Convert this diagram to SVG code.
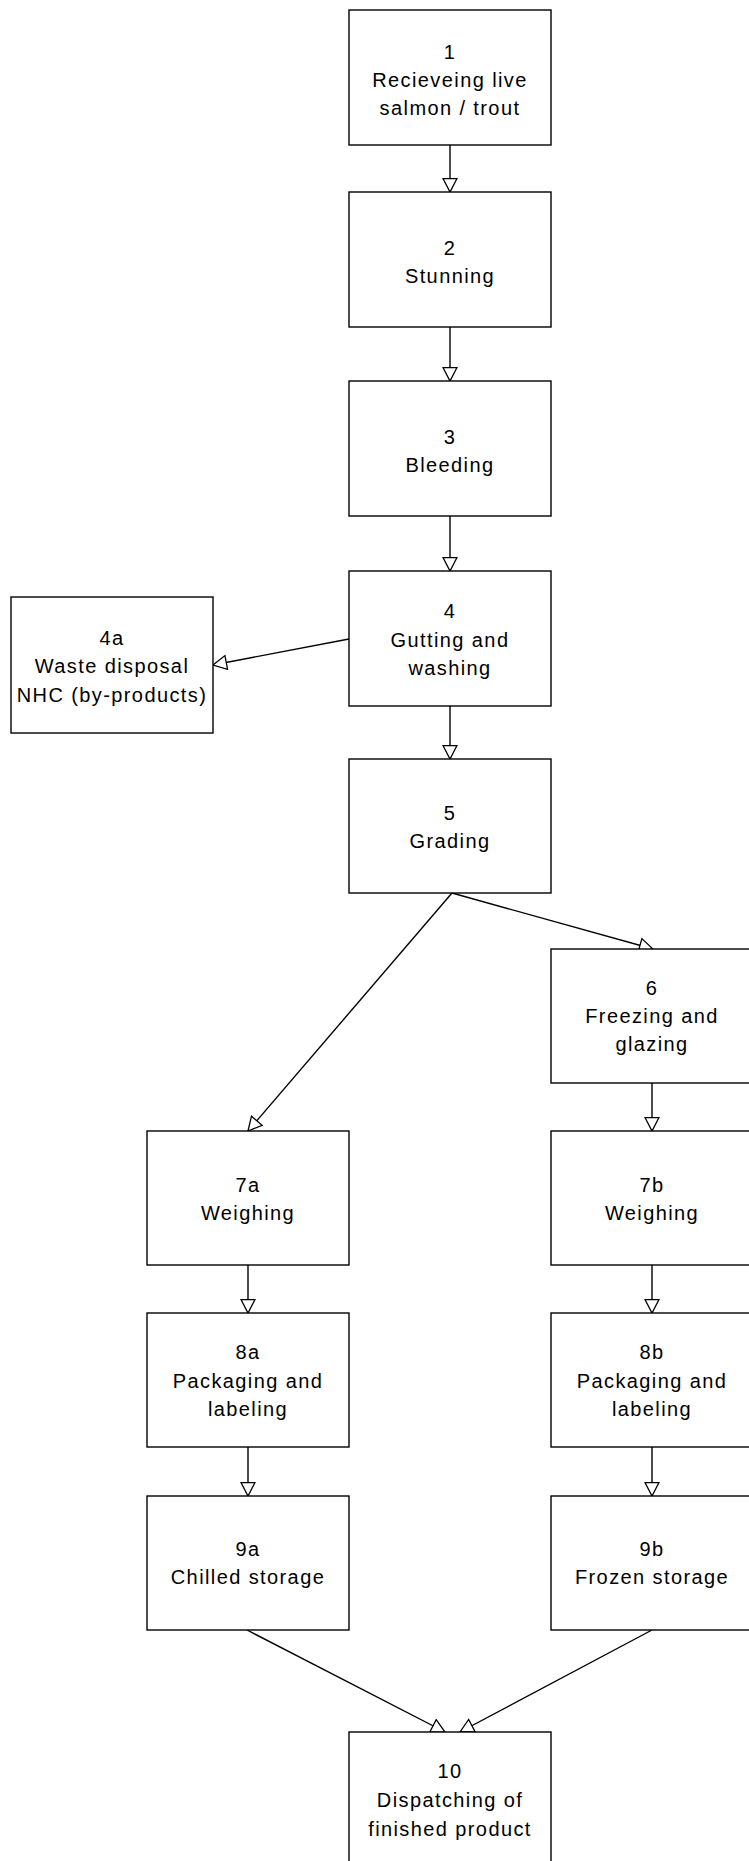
<svg xmlns="http://www.w3.org/2000/svg" width="749" height="1861" viewBox="0 0 749 1861">
<style>
  .box { fill: #ffffff; stroke: #000000; stroke-width: 1.4; }
  .lbl { font-family: "Liberation Sans", Arial, sans-serif; font-size: 20px; letter-spacing: 1.4px; fill: #000000; text-anchor: middle; }
  .conn { fill: none; stroke: #000000; stroke-width: 1.4; marker-end: url(#arr); }
</style>
<defs>
  <marker id="arr" markerUnits="userSpaceOnUse" markerWidth="16" markerHeight="16" refX="13.5" refY="7" orient="auto" viewBox="-1 -1 16 16">
    <path d="M0,0 L13.5,7 L0,14 Z" fill="#ffffff" stroke="#000000" stroke-width="1.3"/>
  </marker>
</defs>
<rect width="749" height="1861" fill="#ffffff"/>
<g id="connectors">
  <line class="conn" x1="450" y1="145" x2="450" y2="192"/>
  <line class="conn" x1="450" y1="327" x2="450" y2="381"/>
  <line class="conn" x1="450" y1="516" x2="450" y2="571"/>
  <line class="conn" x1="450" y1="706" x2="450" y2="759"/>
  <line class="conn" x1="349" y1="639" x2="213" y2="665"/>
  <line class="conn" x1="452" y1="893" x2="653" y2="949"/>
  <line class="conn" x1="452" y1="893" x2="248" y2="1131"/>
  <line class="conn" x1="652" y1="1083" x2="652" y2="1131"/>
  <line class="conn" x1="248" y1="1265" x2="248" y2="1313"/>
  <line class="conn" x1="652" y1="1265" x2="652" y2="1313"/>
  <line class="conn" x1="248" y1="1447" x2="248" y2="1496"/>
  <line class="conn" x1="652" y1="1447" x2="652" y2="1496"/>
  <line class="conn" x1="247" y1="1630" x2="445" y2="1732"/>
  <line class="conn" x1="652" y1="1630" x2="460" y2="1732"/>
</g>
<g id="n1">
  <rect class="box" x="349" y="10" width="202" height="135"/>
  <text class="lbl" x="450" y="59">1</text>
  <text class="lbl" x="450" y="87">Recieveing live</text>
  <text class="lbl" x="450" y="115">salmon / trout</text>
</g>
<g id="n2">
  <rect class="box" x="349" y="192" width="202" height="135"/>
  <text class="lbl" x="450" y="255">2</text>
  <text class="lbl" x="450" y="283">Stunning</text>
</g>
<g id="n3">
  <rect class="box" x="349" y="381" width="202" height="135"/>
  <text class="lbl" x="450" y="444">3</text>
  <text class="lbl" x="450" y="472">Bleeding</text>
</g>
<g id="n4">
  <rect class="box" x="349" y="571" width="202" height="135"/>
  <text class="lbl" x="450" y="618">4</text>
  <text class="lbl" x="450" y="647">Gutting and</text>
  <text class="lbl" x="450" y="675">washing</text>
</g>
<g id="n4a">
  <rect class="box" x="11" y="597" width="202" height="136"/>
  <text class="lbl" x="112" y="645">4a</text>
  <text class="lbl" x="112" y="673">Waste disposal</text>
  <text class="lbl" x="112" y="702">NHC (by-products)</text>
</g>
<g id="n5">
  <rect class="box" x="349" y="759" width="202" height="134"/>
  <text class="lbl" x="450" y="820">5</text>
  <text class="lbl" x="450" y="848">Grading</text>
</g>
<g id="n6">
  <rect class="box" x="551" y="949" width="202" height="134"/>
  <text class="lbl" x="652" y="995">6</text>
  <text class="lbl" x="652" y="1023">Freezing and</text>
  <text class="lbl" x="652" y="1051">glazing</text>
</g>
<g id="n7a">
  <rect class="box" x="147" y="1131" width="202" height="134"/>
  <text class="lbl" x="248" y="1192">7a</text>
  <text class="lbl" x="248" y="1220">Weighing</text>
</g>
<g id="n7b">
  <rect class="box" x="551" y="1131" width="202" height="134"/>
  <text class="lbl" x="652" y="1192">7b</text>
  <text class="lbl" x="652" y="1220">Weighing</text>
</g>
<g id="n8a">
  <rect class="box" x="147" y="1313" width="202" height="134"/>
  <text class="lbl" x="248" y="1359">8a</text>
  <text class="lbl" x="248" y="1388">Packaging and</text>
  <text class="lbl" x="248" y="1416">labeling</text>
</g>
<g id="n8b">
  <rect class="box" x="551" y="1313" width="202" height="134"/>
  <text class="lbl" x="652" y="1359">8b</text>
  <text class="lbl" x="652" y="1388">Packaging and</text>
  <text class="lbl" x="652" y="1416">labeling</text>
</g>
<g id="n9a">
  <rect class="box" x="147" y="1496" width="202" height="134"/>
  <text class="lbl" x="248" y="1556">9a</text>
  <text class="lbl" x="248" y="1584">Chilled storage</text>
</g>
<g id="n9b">
  <rect class="box" x="551" y="1496" width="202" height="134"/>
  <text class="lbl" x="652" y="1556">9b</text>
  <text class="lbl" x="652" y="1584">Frozen storage</text>
</g>
<g id="n10">
  <rect class="box" x="349" y="1732" width="202" height="135"/>
  <text class="lbl" x="450" y="1778">10</text>
  <text class="lbl" x="450" y="1807">Dispatching of</text>
  <text class="lbl" x="450" y="1836">finished product</text>
</g>
</svg>
